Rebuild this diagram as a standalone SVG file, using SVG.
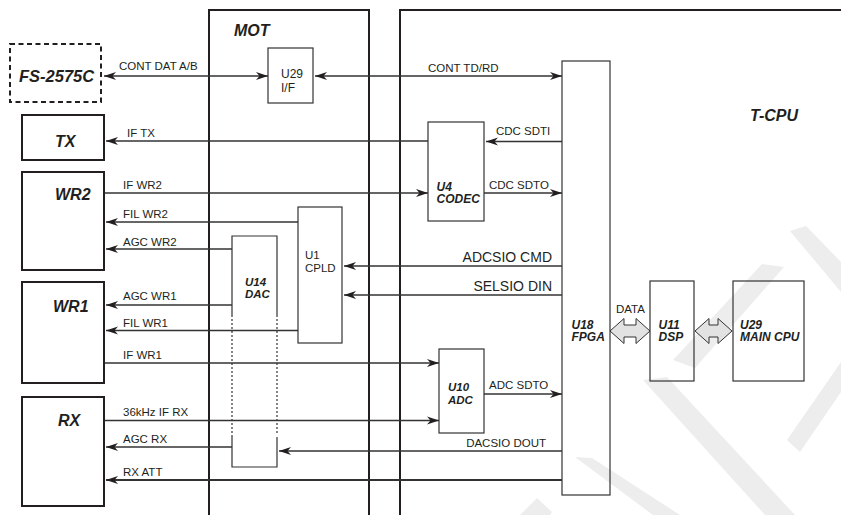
<svg xmlns="http://www.w3.org/2000/svg" width="841" height="515" viewBox="0 0 841 515">
<style>
.t{font-family:"Liberation Sans",Arial,sans-serif;fill:#231f20}
.lbl{font-size:11.5px}
.lg{font-size:14px}
.big{font-size:16px;font-weight:bold;font-style:italic}
.bi{font-size:12px;font-weight:bold;font-style:italic}
.rg{font-size:12px}
.heavy{fill:none;stroke:#231f20;stroke-width:2}
.box{fill:none;stroke:#333;stroke-width:1.2}
.wire{stroke:#333;stroke-width:1.3;fill:none}
.thick{stroke:#333;stroke-width:2;fill:none}
.wm{fill:#ededed}
.bus{fill:#e2e2e2;stroke:#333;stroke-width:1}
</style>
<defs>
<marker id="ah" markerUnits="userSpaceOnUse" markerWidth="13" markerHeight="9" refX="12" refY="4.5" orient="auto-start-reverse">
<path d="M0,0.5 L12,4.5 L0,8.5 L3.5,4.5 z" fill="#231f20"/>
</marker>
</defs>
<rect width="841" height="515" fill="#fff"/>
<g id="watermark">
<polygon class="wm" points="520,515 537,498 552,512 550,515"/>
<polygon class="wm" points="575,457 592,458 680,515 653,515"/>
<polygon class="wm" points="643,380 667,377 795,515 765,515"/>
<polygon class="wm" points="673,360 762,264 784,267 695,368"/>
<polygon class="wm" points="790,231 806,226 841,262 841,292"/>
<polygon class="wm" points="787,440 841,362 841,392 800,452"/>
</g>
<g id="frames">
<path class="heavy" d="M209,515 V10 H369 V515"/>
<path class="heavy" d="M400,515 V10 H841"/>
<text class="t big" x="234" y="36">MOT</text>
<text class="t big" x="750" y="121">T-CPU</text>
</g>
<g id="connectors">
<line class="wire" x1="268" y1="76" x2="104" y2="76" marker-start="url(#ah)" marker-end="url(#ah)"/>
<line class="wire" x1="315" y1="76" x2="562" y2="76" marker-start="url(#ah)" marker-end="url(#ah)"/>
<line class="wire" x1="428" y1="141" x2="106" y2="141" marker-end="url(#ah)"/>
<line class="wire" x1="562" y1="141.5" x2="486" y2="141.5" marker-end="url(#ah)"/>
<line class="wire" x1="104" y1="193" x2="428" y2="193" marker-end="url(#ah)"/>
<line class="wire" x1="484" y1="193" x2="562" y2="193" marker-end="url(#ah)"/>
<line class="wire" x1="298" y1="222" x2="106" y2="222" marker-end="url(#ah)"/>
<line class="wire" x1="232" y1="249" x2="106" y2="249" marker-end="url(#ah)"/>
<line class="wire" x1="562" y1="266" x2="344" y2="266" marker-end="url(#ah)"/>
<line class="wire" x1="562" y1="295" x2="344" y2="295" marker-end="url(#ah)"/>
<line class="wire" x1="232" y1="305" x2="106" y2="305" marker-end="url(#ah)"/>
<line class="wire" x1="298" y1="330.5" x2="106" y2="330.5" marker-end="url(#ah)"/>
<line class="wire" x1="104" y1="363" x2="439" y2="363" marker-end="url(#ah)"/>
<line class="wire" x1="484" y1="394" x2="562" y2="394" marker-end="url(#ah)"/>
<line class="wire" x1="104" y1="420.5" x2="439" y2="420.5" marker-end="url(#ah)"/>
<line class="wire" x1="232" y1="447" x2="106" y2="447" marker-end="url(#ah)"/>
<line class="wire" x1="562" y1="451" x2="279" y2="451" marker-end="url(#ah)"/>
<line class="thick" x1="562" y1="480" x2="106" y2="480" marker-end="url(#ah)"/>
<polygon class="bus" points="610,331 624,318.5 624,325 636,325 636,318.5 650,331 636,343.5 636,337 624,337 624,343.5"/>
<polygon class="bus" points="695,331 709,318.5 709,325 718,325 718,318.5 732,331 718,343.5 718,337 709,337 709,343.5"/>
<text class="t lbl" x="119" y="70">CONT DAT A/B</text>
<text class="t lbl" x="428" y="72">CONT TD/RD</text>
<text class="t lbl" x="127" y="137">IF TX</text>
<text class="t lbl" x="496" y="135">CDC SDTI</text>
<text class="t lbl" x="123" y="189">IF WR2</text>
<text class="t lbl" x="489" y="189">CDC SDTO</text>
<text class="t lbl" x="123" y="218">FIL WR2</text>
<text class="t lbl" x="123" y="245.5">AGC WR2</text>
<text class="t lg" x="552" y="261.5" text-anchor="end">ADCSIO CMD</text>
<text class="t lg" x="552" y="290.5" text-anchor="end">SELSIO DIN</text>
<text class="t lbl" x="123" y="299.5">AGC WR1</text>
<text class="t lbl" x="123" y="326.5">FIL WR1</text>
<text class="t lbl" x="616" y="313">DATA</text>
<text class="t lbl" x="123" y="359">IF WR1</text>
<text class="t lbl" x="489" y="389">ADC SDTO</text>
<text class="t lbl" x="123" y="416">36kHz IF RX</text>
<text class="t lbl" x="123" y="443">AGC RX</text>
<text class="t lbl" x="546" y="447" text-anchor="end">DACSIO DOUT</text>
<text class="t lbl" x="123" y="475.5">RX ATT</text>
</g>
<g id="fs2575c">
<rect x="10" y="44" width="91" height="58" fill="none" stroke="#231f20" stroke-width="2" stroke-dasharray="5,3.5"/>
<text class="t big" x="19" y="81.5" style="font-size:16.5px">FS-2575C</text>
</g>
<g id="tx">
<rect class="heavy" x="22" y="115" width="82" height="45"/>
<text class="t big" x="55" y="147">TX</text>
</g>
<g id="wr2">
<rect class="heavy" x="22" y="172" width="82" height="98"/>
<text class="t big" x="55" y="200">WR2</text>
</g>
<g id="wr1">
<rect class="heavy" x="22" y="282" width="82" height="101"/>
<text class="t big" x="53" y="311.5">WR1</text>
</g>
<g id="rx">
<rect class="heavy" x="22" y="397" width="82" height="109"/>
<text class="t big" x="58" y="426">RX</text>
</g>
<g id="u29if">
<rect class="box" x="268" y="48" width="45" height="55"/>
<text class="t rg" x="281" y="77.5">U29</text>
<text class="t rg" x="281" y="91.5">I/F</text>
</g>
<g id="u1cpld">
<rect class="box" x="298" y="207" width="44" height="136"/>
<text class="t rg" x="305" y="258.5" style="font-size:11.5px">U1</text>
<text class="t rg" x="305" y="271.5" style="font-size:11.5px">CPLD</text>
</g>
<g id="u14dac">
<path class="box" d="M232,315 V236 H277 V315"/>
<path class="box" d="M232,315 V437 M277,315 V435" stroke-dasharray="2,2"/>
<path class="box" d="M232,437 V467 H277 V437"/>
<text class="t bi" x="245" y="286" style="font-size:11.5px">U14</text>
<text class="t bi" x="245" y="298" style="font-size:11.5px">DAC</text>
</g>
<g id="u4codec">
<rect class="box" x="428" y="122" width="56" height="99"/>
<text class="t bi" x="436.5" y="190.5">U4</text>
<text class="t bi" x="436.5" y="203">CODEC</text>
</g>
<g id="u10adc">
<rect class="box" x="439" y="349" width="45" height="84"/>
<text class="t bi" x="448" y="391" style="font-size:11.5px">U10</text>
<text class="t bi" x="448" y="404" style="font-size:11.5px">ADC</text>
</g>
<g id="u18fpga">
<rect class="box" x="562" y="61" width="48" height="434"/>
<text class="t bi" x="571.5" y="328.5">U18</text>
<text class="t bi" x="571.5" y="341">FPGA</text>
</g>
<g id="u11dsp">
<rect class="box" x="650" y="281" width="44" height="100"/>
<text class="t bi" x="658.5" y="328.5">U11</text>
<text class="t bi" x="658.5" y="341">DSP</text>
</g>
<g id="u29maincpu">
<rect class="box" x="733" y="281" width="71" height="100"/>
<text class="t bi" x="740" y="328.5">U29</text>
<text class="t bi" x="740" y="341">MAIN CPU</text>
</g>
</svg>
